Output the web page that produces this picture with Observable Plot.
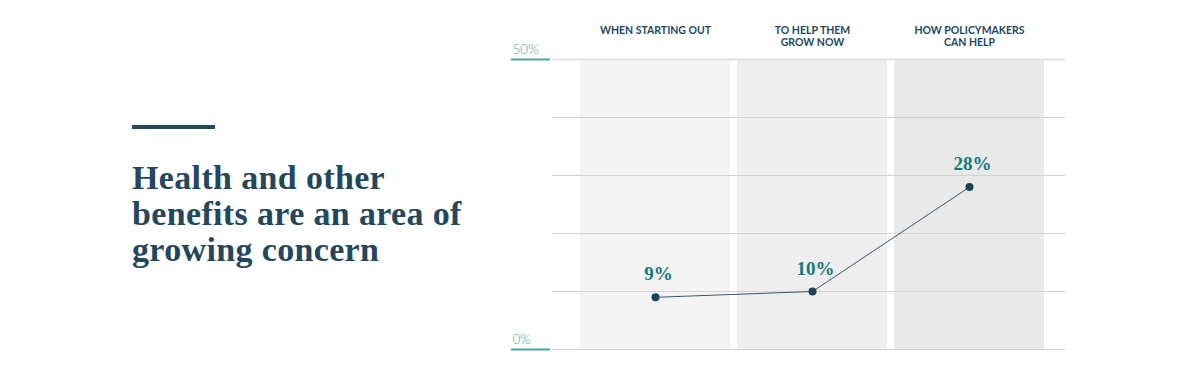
<!DOCTYPE html>
<html>
<head>
<meta charset="utf-8">
<script src="https://cdn.jsdelivr.net/npm/d3@7"></script>
<script src="https://cdn.jsdelivr.net/npm/@observablehq/plot@0.6"></script>
<style>
  html, body { margin: 0; padding: 0; background: #fff; }
  #wrap { position: relative; width: 1200px; height: 384px; overflow: hidden; }
  #bar { position: absolute; left: 132px; top: 125px; width: 83px; height: 4px; background: #24475b; }
  #title { position: absolute; left: 132px; top: 160px; margin: 0; font-family: "Liberation Serif", serif; font-weight: 700;
           font-size: 34px; line-height: 36px; color: #24475b; letter-spacing: 0.35px; }
  #chart { position: absolute; left: 0; top: 0; }
</style>
</head>
<body>
<div id="wrap">
  <div id="bar"></div>
  <h1 id="title">Health and other<br>benefits are an area of<br>growing concern</h1>
  <div id="chart"></div>
</div>
<script>
const categories = ["WHEN STARTING OUT", "TO HELP THEM\nGROW NOW", "HOW POLICYMAKERS\nCAN HELP"];
const values = [9, 10, 28];
const valueLabels = ["9%", "10%", "28%"];
const gridTicks = [0, 10, 20, 30, 40, 50];
const axisTicks = [0, 50];
const axisLabels = ["0%", "50%"];

const data = categories.map((c, i) => ({cat: c, value: values[i], label: valueLabels[i]}));
const axisData = axisTicks.map((t, i) => ({t, label: axisLabels[i]}));

const teal = "#127a7a";
const lightTeal = "#52a3a3";
const navy = "#24475b";

const chart = Plot.plot({
  width: 1200,
  height: 384,
  marginLeft: 552,
  marginRight: 135,
  marginTop: 59,
  marginBottom: 35,
  style: {fontFamily: "Lato, sans-serif", background: "transparent"},
  x: {domain: categories, range: [580, 1044], paddingInner: 0.045, paddingOuter: 0, axis: null},
  y: {domain: [0, 50], axis: null},
  color: {domain: categories, range: ["#f4f4f4", "#eeeeee", "#e9e9e9"]},
  marks: [
    Plot.barY(data, {x: "cat", y1: 0, y2: 50, fill: "cat"}),
    Plot.ruleY(gridTicks.filter(d => d !== 50), {stroke: "#d2d2d2", strokeWidth: 1}),
    Plot.ruleY([50], {stroke: "#e2e2e2", strokeWidth: 2}),
    Plot.axisY({ticks: axisTicks, tickSize: 39, dx: -2, tickFormat: () => "", stroke: lightTeal, strokeWidth: 2, strokeOpacity: 1}),
    Plot.text(axisData, {y: "t", text: "label", frameAnchor: "left", textAnchor: "start", dx: -40, dy: -10,
      fill: lightTeal, fontSize: 13.5, fontWeight: 300}),
    Plot.text(data, {x: "cat", text: "cat", frameAnchor: "top", lineAnchor: "top", dy: -34,
      fill: navy, fontSize: 10.5, fontWeight: 700, lineHeight: 1.15}),
    Plot.line(data, {x: "cat", y: "value", stroke: "#3a5668", strokeWidth: 1}),
    Plot.dot(data, {x: "cat", y: "value", r: 4, fill: "#1f4356", stroke: "none"}),
    Plot.text(data, {x: "cat", y: "value", text: "label", dy: -23, dx: 3,
      fill: teal, fontSize: 19, fontWeight: 700, fontFamily: "Liberation Serif, serif"})
  ]
});
document.getElementById("chart").appendChild(chart);
</script>
</body>
</html>
